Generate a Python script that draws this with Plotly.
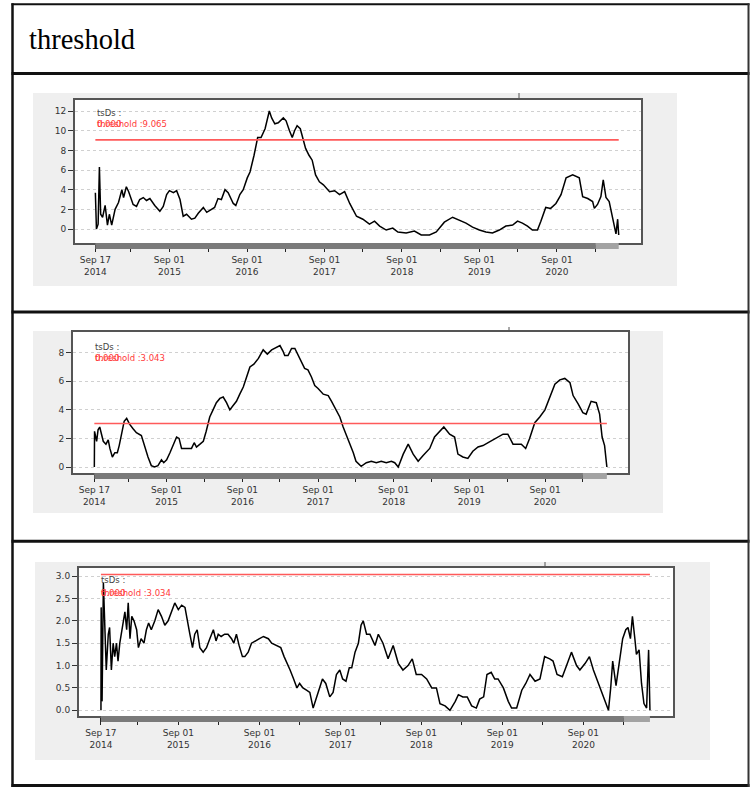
import plotly.graph_objects as go

OFF = 0
W, H = 751, 788

# ---------------- data ----------------
dates_1 = ["2014-09-17","2014-09-22","2014-09-30","2014-10-06","2014-10-12","2014-10-21","2014-11-02","2014-11-13",
           "2014-11-22","2014-12-03","2014-12-19","2015-01-04","2015-01-20","2015-01-28","2015-02-10","2015-02-21",
           "2015-03-14","2015-03-30","2015-04-14","2015-05-01","2015-05-16","2015-06-01","2015-06-24","2015-07-18",
           "2015-08-03","2015-08-19","2015-09-01","2015-09-20","2015-10-05","2015-10-21","2015-11-05","2015-11-21",
           "2015-12-14","2015-12-30","2016-01-15","2016-02-08","2016-02-24","2016-03-16","2016-04-01","2016-04-17",
           "2016-05-03","2016-05-20","2016-06-04","2016-06-28","2016-07-10","2016-07-29","2016-08-14","2016-09-02",
           "2016-09-15","2016-10-04","2016-10-21","2016-11-06","2016-11-25","2016-12-15","2016-12-26","2017-01-10",
           "2017-01-26","2017-02-19","2017-03-04","2017-03-20","2017-04-02","2017-04-13","2017-04-25","2017-05-10",
           "2017-05-23","2017-06-04","2017-06-20","2017-07-05","2017-07-21","2017-08-08","2017-08-27","2017-09-25",
           "2017-10-19","2017-11-11","2017-12-05","2017-12-29","2018-01-30","2018-03-01","2018-04-01","2018-04-25",
           "2018-05-19","2018-06-19","2018-07-20","2018-08-13","2018-09-21","2018-10-30","2018-12-01","2019-01-09",
           "2019-02-10","2019-03-20","2019-04-28","2019-05-29","2019-06-30","2019-07-31","2019-09-01","2019-10-02",
           "2019-11-02","2019-12-04","2020-01-04","2020-02-05","2020-02-28","2020-03-22","2020-04-15","2020-05-08",
           "2020-06-01","2020-06-17","2020-07-10","2020-08-02","2020-08-27","2020-09-20","2020-10-14","2020-11-14",
           "2020-12-15","2020-12-31","2021-01-24","2021-02-16","2021-02-24","2021-03-11","2021-03-27","2021-04-07",
           "2021-04-20","2021-05-05","2021-05-21","2021-06-06","2021-06-14","2021-06-19"]
values_1 = [3.7,0.0,0.5,6.3,1.5,1.2,2.4,0.4,
            1.5,0.4,2.0,2.7,4.0,3.2,4.3,3.8,
            2.5,2.3,3.0,3.2,2.9,3.1,2.4,1.8,
            2.3,3.5,3.9,3.7,3.9,3.0,1.3,1.5,
            1.0,1.1,1.6,2.2,1.7,2.0,2.2,3.1,
            3.0,4.0,3.7,2.6,2.4,3.5,4.0,5.2,
            5.8,7.5,9.3,9.3,10.2,12.0,11.3,10.7,
            10.8,11.3,11.0,10.0,9.3,10.0,10.5,10.2,
            9.0,8.2,7.5,7.0,5.5,4.8,4.5,3.8,
            3.9,3.5,3.8,2.6,1.3,1.0,0.5,0.8,
            0.3,-0.1,0.1,-0.3,-0.4,-0.2,-0.6,-0.6,
            -0.3,0.7,1.2,0.9,0.6,0.2,-0.1,-0.3,
            -0.4,-0.1,0.3,0.4,0.8,0.6,0.3,-0.1,
            -0.1,0.8,2.2,2.1,2.6,3.5,5.2,5.5,
            5.2,3.3,3.1,2.8,2.1,2.5,3.3,5.0,
            3.2,2.8,1.0,-0.5,1.0,-0.6]

dates_2 = ["2014-09-17","2014-09-18","2014-09-28","2014-10-05","2014-10-13","2014-10-21","2014-10-30","2014-11-12",
           "2014-11-23","2014-12-01","2014-12-13","2014-12-25","2015-01-06","2015-01-15","2015-01-27","2015-02-08",
           "2015-02-20","2015-03-06","2015-03-22","2015-04-08","2015-05-02","2015-05-18","2015-06-03","2015-06-19",
           "2015-07-05","2015-07-21","2015-08-07","2015-08-18","2015-09-01","2015-09-17","2015-10-03","2015-10-19",
           "2015-10-31","2015-11-12","2015-11-28","2015-12-14","2015-12-30","2016-01-12","2016-01-23","2016-02-09",
           "2016-02-25","2016-03-10","2016-03-27","2016-04-12","2016-04-28","2016-05-15","2016-05-31","2016-06-16",
           "2016-07-02","2016-07-18","2016-08-03","2016-08-19","2016-09-05","2016-09-21","2016-10-07","2016-10-26",
           "2016-11-17","2016-12-10","2016-12-30","2017-01-20","2017-02-14","2017-03-01","2017-03-16","2017-03-24",
           "2017-04-09","2017-04-26","2017-05-12","2017-05-28","2017-06-12","2017-06-28","2017-07-14","2017-07-31",
           "2017-08-16","2017-09-01","2017-09-26","2017-10-20","2017-11-05","2017-11-21","2017-12-15","2017-12-31",
           "2018-01-16","2018-02-02","2018-02-18","2018-03-03","2018-03-28","2018-04-22","2018-05-16","2018-06-09",
           "2018-07-03","2018-07-27","2018-08-21","2018-09-06","2018-09-23","2018-10-17","2018-11-10","2018-12-04",
           "2018-12-28","2019-01-21","2019-02-22","2019-03-17","2019-04-10","2019-05-01","2019-05-29","2019-06-22",
           "2019-07-08","2019-08-01","2019-08-25","2019-09-18","2019-10-13","2019-11-06","2019-12-01","2019-12-25",
           "2020-01-18","2020-02-11","2020-03-05","2020-03-30","2020-04-23","2020-05-09","2020-05-30","2020-06-18",
           "2020-07-13","2020-08-06","2020-08-31","2020-09-24","2020-10-18","2020-11-11","2020-12-05","2020-12-30",
           "2021-01-14","2021-02-08","2021-03-02","2021-03-18","2021-04-11","2021-05-06","2021-05-22","2021-06-03",
           "2021-06-15","2021-06-26"]
values_2 = [0.0,2.5,1.8,2.6,2.8,2.2,1.8,1.6,
            1.9,1.3,0.7,1.0,1.0,1.5,2.5,3.2,
            3.4,3.0,2.7,2.4,2.2,1.4,0.7,0.1,
            0.0,0.1,0.5,0.3,0.5,1.0,1.5,2.1,
            2.0,1.3,1.3,1.3,1.3,1.7,1.4,1.6,
            1.8,2.5,3.5,4.0,4.5,4.8,4.9,4.5,
            4.0,4.3,4.6,5.1,5.6,6.3,7.0,7.2,
            7.6,8.2,7.9,8.2,8.4,8.5,8.1,7.8,
            7.8,8.3,8.3,7.8,7.3,6.9,6.8,6.3,
            5.7,5.5,5.1,5.0,4.6,4.2,3.5,2.8,
            2.2,1.7,1.0,0.4,0.05,0.3,0.4,0.3,
            0.4,0.3,0.4,0.3,0.0,0.9,1.6,0.9,
            0.4,0.8,1.3,2.1,2.5,2.8,2.3,2.1,
            0.9,0.7,0.6,1.1,1.4,1.5,1.7,1.9,
            2.1,2.3,2.3,1.6,1.6,1.6,1.3,2.0,
            3.1,3.5,4.0,4.9,5.8,6.1,6.2,5.9,
            5.0,4.4,3.8,3.7,4.6,4.5,3.7,2.1,
            1.5,0.0]

dates_3 = ["2014-09-17","2014-09-18","2014-09-22","2014-09-28","2014-10-11","2014-10-20","2014-10-26","2014-11-03",
           "2014-11-11","2014-11-18","2014-11-26","2014-12-03","2014-12-11","2014-12-18","2014-12-26","2015-01-03",
           "2015-01-11","2015-01-18","2015-01-26","2015-02-03","2015-02-13","2015-02-25","2015-03-05","2015-03-17",
           "2015-03-30","2015-04-10","2015-04-20","2015-05-02","2015-05-18","2015-06-02","2015-06-17","2015-07-02",
           "2015-07-17","2015-08-01","2015-08-16","2015-09-01","2015-09-16","2015-10-01","2015-10-11","2015-10-23",
           "2015-11-04","2015-11-14","2015-11-25","2015-12-07","2015-12-22","2016-01-06","2016-01-21","2016-02-06",
           "2016-02-18","2016-02-28","2016-03-12","2016-03-28","2016-04-12","2016-04-28","2016-05-08","2016-05-20",
           "2016-06-01","2016-06-16","2016-06-27","2016-07-12","2016-07-27","2016-08-11","2016-09-01","2016-09-19",
           "2016-10-11","2016-10-26","2016-11-18","2016-12-06","2016-12-21","2017-01-05","2017-01-17","2017-02-02",
           "2017-02-17","2017-03-01","2017-03-16","2017-04-01","2017-04-16","2017-05-01","2017-05-16","2017-06-01",
           "2017-06-12","2017-06-27","2017-07-15","2017-07-30","2017-08-14","2017-08-29","2017-09-11","2017-09-26",
           "2017-10-11","2017-10-22","2017-11-06","2017-11-21","2017-12-03","2017-12-13","2017-12-28","2018-01-12",
           "2018-02-04","2018-02-19","2018-03-12","2018-04-04","2018-04-27","2018-05-20","2018-06-10","2018-07-03",
           "2018-07-22","2018-08-09","2018-09-02","2018-09-25","2018-10-18","2018-11-08","2018-11-24","2018-12-17",
           "2019-01-08","2019-02-01","2019-02-15","2019-03-07","2019-03-27","2019-04-16","2019-05-07","2019-05-22",
           "2019-06-09","2019-06-24","2019-07-13","2019-07-29","2019-08-13","2019-09-06","2019-09-28","2019-10-13",
           "2019-11-05","2019-11-28","2019-12-16","2020-01-04","2020-01-27","2020-02-18","2020-03-10","2020-04-02",
           "2020-04-17","2020-05-05","2020-05-29","2020-06-17","2020-07-09","2020-08-01","2020-08-16","2020-09-09",
           "2020-09-28","2020-10-16","2020-11-07","2020-11-30","2020-12-23","2021-01-02","2021-01-11","2021-01-26",
           "2021-02-13","2021-02-25","2021-03-11","2021-03-21","2021-04-01","2021-04-10","2021-04-21","2021-04-28",
           "2021-05-10","2021-05-21","2021-06-01","2021-06-13","2021-06-22","2021-06-28"]
values_3 = [0.0,2.3,0.2,2.85,0.9,1.7,1.85,0.9,
            1.5,1.2,1.5,1.1,1.5,1.7,2.0,2.2,
            1.8,2.4,1.6,2.1,2.0,1.8,1.4,1.6,
            1.5,1.8,1.95,1.8,2.0,2.25,2.1,1.9,
            2.0,2.2,2.4,2.25,2.35,2.3,2.0,1.7,
            1.4,1.7,1.8,1.4,1.3,1.4,1.6,1.8,
            1.55,1.7,1.65,1.7,1.7,1.6,1.5,1.7,
            1.45,1.2,1.2,1.3,1.5,1.55,1.6,1.65,
            1.6,1.5,1.45,1.4,1.2,1.05,0.9,0.7,
            0.5,0.6,0.5,0.45,0.4,0.05,0.3,0.55,
            0.7,0.6,0.3,0.4,0.8,0.9,0.7,0.65,
            0.95,0.95,1.3,1.5,1.9,2.0,1.7,1.7,
            1.45,1.7,1.5,1.15,1.45,1.05,0.9,1.0,
            1.15,0.8,0.8,0.7,0.5,0.5,0.15,0.1,
            0.0,0.2,0.35,0.3,0.3,0.1,0.05,0.25,
            0.3,0.8,0.85,0.7,0.7,0.5,0.2,0.05,
            0.05,0.45,0.6,0.8,0.65,0.7,1.2,1.15,
            1.1,0.8,0.75,1.0,1.3,1.0,0.9,1.05,
            1.2,0.9,0.6,0.3,0.0,0.5,1.1,0.55,
            1.2,1.6,1.8,1.85,1.6,2.1,1.6,1.25,
            1.35,0.6,0.15,0.05,1.35,0.0]

series_dates = [dates_1, dates_2, dates_3]
series_values = [values_1, values_2, values_3]
thresholds = [9.065, 3.043, 3.034]
series_name = "tsDs :"
legend_value = "0.000"
header_text = "threshold"

x_tick_dates = ["2014-09-17","2015-03-01","2015-09-01","2016-03-01","2016-09-01","2017-03-01","2017-09-01",
                "2018-03-01","2018-09-01","2019-03-01","2019-09-01","2020-03-01","2020-09-01","2021-03-01"]
x_tick_labels = ["Sep 17<br>2014","","Sep 01<br>2015","","Sep 01<br>2016","","Sep 01<br>2017",
                 "","Sep 01<br>2018","","Sep 01<br>2019","","Sep 01<br>2020",""]
y_ticks = [[0,2,4,6,8,10,12], [0,2,4,6,8], [0.0,0.5,1.0,1.5,2.0,2.5,3.0]]
y_tick_labels = [["0","2","4","6","8","10","12"], ["0","2","4","6","8"],
                 ["0.0","0.5","1.0","1.5","2.0","2.5","3.0"]]

# ---------------- layout geometry (window pixels) ----------------
boxes = [(75, 641, 100, 243), (73, 628, 332, 473), (79, 673, 568, 716)]      # plot boxes l, r, t, b
panels = [(33, 677, 93, 286), (33, 663, 331, 513), (35, 710, 562, 760)]      # grey image panels
x_ranges = [("2014-06-13", "2021-10-02"), ("2014-06-06", "2021-10-06"), ("2014-06-10", "2021-10-10")]
y_ranges = [(-1.42, 13.12), (-0.42, 9.45), (-0.127, 3.18)]
legend_pos = [(0.035, 0.909, 0.832), (0.0366, 0.894, 0.816), (0.034, 0.919, 0.831)]
top_marks = [(519, 93, 100), (509, 327, 332), (545, 562, 568)]


def px(x):
    return (x - OFF) / W


def py(y):
    return 1 - (y - OFF) / H


fig = go.Figure()
shapes = []
annotations = []
layout_axes = {}

for i in range(3):
    n = "" if i == 0 else str(i + 1)
    xa, ya = "x" + n, "y" + n
    l, r, t, b = boxes[i]
    pl, pr, pt, pb = panels[i]

    # grey panel and white plot interior
    shapes.append(dict(type="rect", xref="paper", yref="paper", x0=px(pl), x1=px(pr), y0=py(pb), y1=py(pt),
                       fillcolor="#efefef", line=dict(width=0), layer="below"))
    shapes.append(dict(type="rect", xref="paper", yref="paper", x0=px(l), x1=px(r), y0=py(b), y1=py(t),
                       fillcolor="white", line=dict(width=0), layer="below"))

    d = series_dates[i]
    v = series_values[i]
    fig.add_trace(go.Scatter(x=d, y=v, mode="lines", line=dict(color="black", width=1.5),
                             xaxis=xa, yaxis=ya, showlegend=False, hoverinfo="skip"))
    fig.add_trace(go.Scatter(x=[d[0], d[-1]], y=[thresholds[i], thresholds[i]], mode="lines",
                             line=dict(color="#ff5a5a", width=1.6),
                             xaxis=xa, yaxis=ya, showlegend=False, hoverinfo="skip"))

    # grey time bar under the x axis
    shapes.append(dict(type="rect", xref=xa, yref=ya + " domain", x0=d[0], x1=x_tick_dates[-1],
                       y0=-6 / (b - t), y1=0, fillcolor="#7a7a7a", line=dict(width=0), layer="above"))
    shapes.append(dict(type="rect", xref=xa, yref=ya + " domain", x0=x_tick_dates[-1], x1=d[-1],
                       y0=-6 / (b - t), y1=0, fillcolor="#a3a3a3", line=dict(width=0), layer="above"))

    mx, my0, my1 = top_marks[i]
    shapes.append(dict(type="line", xref="paper", yref="paper", x0=px(mx), x1=px(mx), y0=py(my1), y1=py(my0),
                       line=dict(color="#555", width=1)))

    lx, ly1, ly2 = legend_pos[i]
    annotations.append(dict(text=series_name, xref=xa + " domain", yref=ya + " domain", x=lx, y=ly1,
                            xanchor="left", yanchor="middle", showarrow=False,
                            font=dict(family="DejaVu Sans", size=8.5, color="#444")))
    for txt in (legend_value, "threshold :" + format(thresholds[i], ".3f")):
        annotations.append(dict(text=txt, xref=xa + " domain", yref=ya + " domain", x=lx, y=ly2,
                                xanchor="left", yanchor="middle", showarrow=False,
                                font=dict(family="DejaVu Sans", size=8.5, color="#ff3a3a")))

    layout_axes["xaxis" + n] = dict(
        domain=[px(l), px(r)], anchor=ya, type="date", range=list(x_ranges[i]),
        tickmode="array", tickvals=x_tick_dates, ticktext=x_tick_labels,
        ticks="outside", ticklen=7, tickwidth=1, tickcolor="#222",
        showgrid=False, zeroline=False, showline=True, mirror=True, linecolor="#555", linewidth=2,
        tickfont=dict(family="DejaVu Sans", size=9, color="#333"), fixedrange=True)
    layout_axes["yaxis" + n] = dict(
        domain=[py(b), py(t)], anchor=xa, range=list(y_ranges[i]),
        tickmode="array", tickvals=y_ticks[i], ticktext=y_tick_labels[i],
        ticks="outside", ticklen=5, tickwidth=1, tickcolor="#333",
        showgrid=True, gridcolor="#d0d0d0", griddash="dot", gridwidth=1,
        zeroline=False, showline=True, mirror=True, linecolor="#555", linewidth=2,
        tickfont=dict(family="DejaVu Sans", size=9, color="#333"), fixedrange=True)


# table borders
def hline(y, x0, x1, w, c="#111"):
    shapes.append(dict(type="line", xref="paper", yref="paper", x0=px(x0), x1=px(x1), y0=py(y), y1=py(y),
                       line=dict(color=c, width=w)))


def vline(x, y0, y1, w, c="#111"):
    shapes.append(dict(type="line", xref="paper", yref="paper", x0=px(x), x1=px(x), y0=py(y0), y1=py(y1),
                       line=dict(color=c, width=w)))


hline(4.3, 11.5, 749.5, 2)
hline(73.5, 11.5, 749.5, 3)
hline(312, 11.5, 749.5, 3)
hline(541.3, 11.5, 749.5, 3)
hline(785.5, 11.5, 749.5, 3)
vline(12.5, 3.3, 787, 2.5)
vline(748.5, 3.3, 787, 2, "#333")

annotations.append(dict(text=header_text, xref="paper", yref="paper", x=px(27), y=py(39.5),
                        xanchor="left", yanchor="middle", showarrow=False,
                        font=dict(family="Liberation Serif", size=28.5, color="black")))

fig.update_layout(width=W, height=H, autosize=False, margin=dict(l=0, r=0, t=0, b=0),
                  paper_bgcolor="white", plot_bgcolor="white", showlegend=False,
                  shapes=shapes, annotations=annotations, **layout_axes)

# remove the page's default body margin so the figure fills the 751x788 window exactly
fig.write_html("out.html", config={"displayModeBar": False},
               post_script="document.body.style.margin='0';document.body.style.overflow='hidden';")
